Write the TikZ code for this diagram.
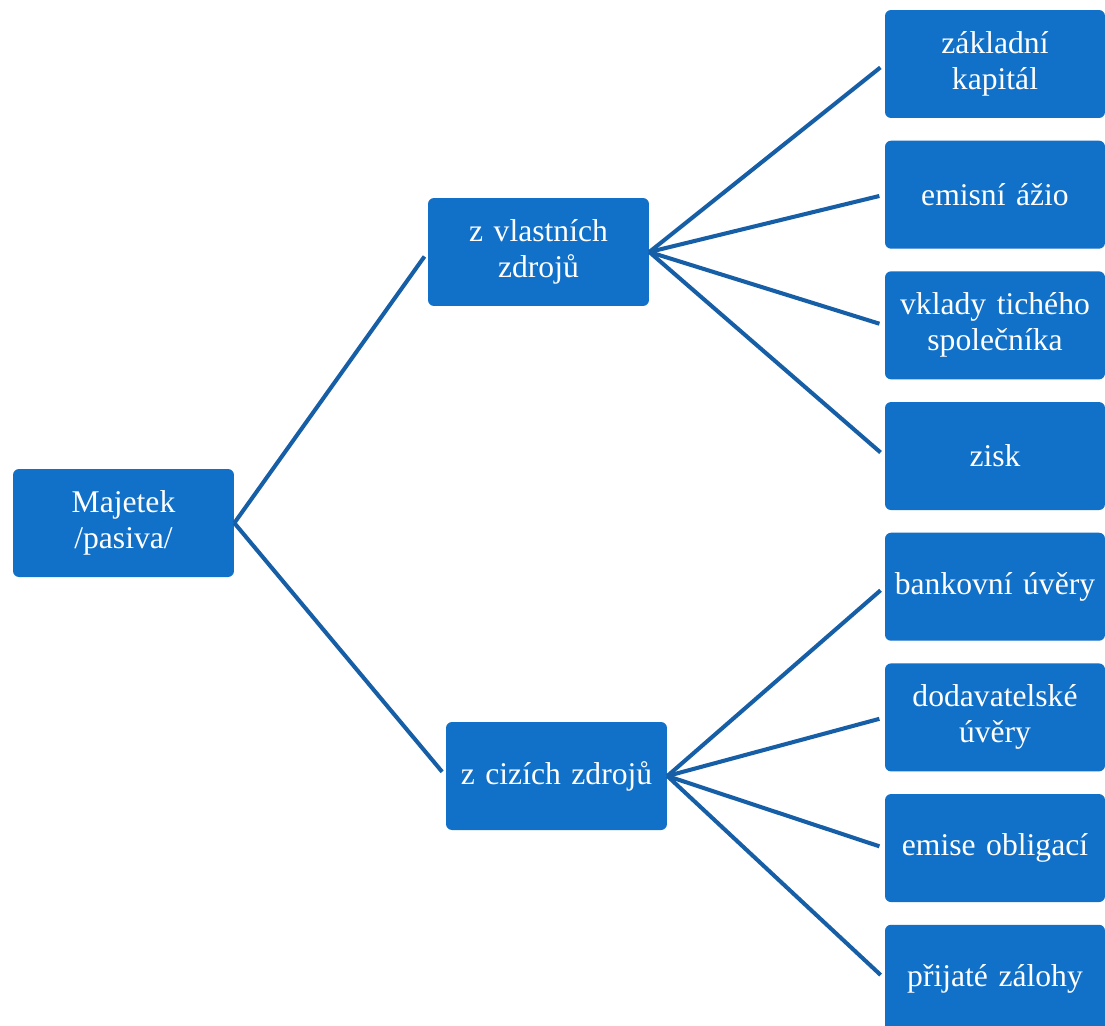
\documentclass[tikz,border=0pt]{standalone}
\usepackage{fontspec}
\setmainfont{Liberation Serif}
\usetikzlibrary{positioning}
\definecolor{boxblue}{RGB}{17,112,200}
\definecolor{lineblue}{RGB}{22,94,166}

\begin{document}
\begin{tikzpicture}[x=0.02cm, y=-0.02cm, node distance=0.44cm,
    every node/.style={font=\fontsize{18}{20.5}\selectfont, text=white},
    box/.style={fill=boxblue, rounded corners=0.12cm, align=center,
      minimum width=4.42cm, minimum height=2.16cm, text width=4.2cm, inner sep=1pt},
    leaf/.style={box, minimum width=4.4cm},
    every edge/.style={draw=lineblue, line width=2.3pt, shorten >=0.11cm}
    ]
\fill[white] (0,0) rectangle (1105,1025);
\useasboundingbox (0,0) rectangle (1105,1025);
% root and the two kinds of sources
\node[box] (maj) at (123.5,523) {Majetek\\/pasiva/};
\node[box] (vl)  at (538.5,252) {z vlastních\\zdrojů};
\node[box] (ci)  at (556.5,776) {z cizích zdrojů};
% own sources
\node[leaf] (zk) at (995,64)  {základní\\kapitál};
\node[leaf] (ea) [below=of zk] {emisní ážio};
\node[leaf] (vt) [below=of ea] {vklady tichého\\společníka};
\node[leaf] (zi) [below=of vt] {zisk};
% foreign sources
\node[leaf] (bu) [below=of zi] {bankovní úvěry};
\node[leaf] (du) [below=of bu] {dodavatelské\\úvěry};
\node[leaf] (eo) [below=of du] {emise obligací};
\node[leaf] (pz) [below=of eo] {přijaté zálohy};
\path
(maj.east) edge (vl.west)
           edge (ci.west)
(vl.east)  edge (zk.west)
           edge (ea.west)
           edge (vt.west)
           edge (zi.west)
(ci.east)  edge (bu.west)
           edge (du.west)
           edge (eo.west)
           edge (pz.west)
;
\end{tikzpicture}
\end{document}
